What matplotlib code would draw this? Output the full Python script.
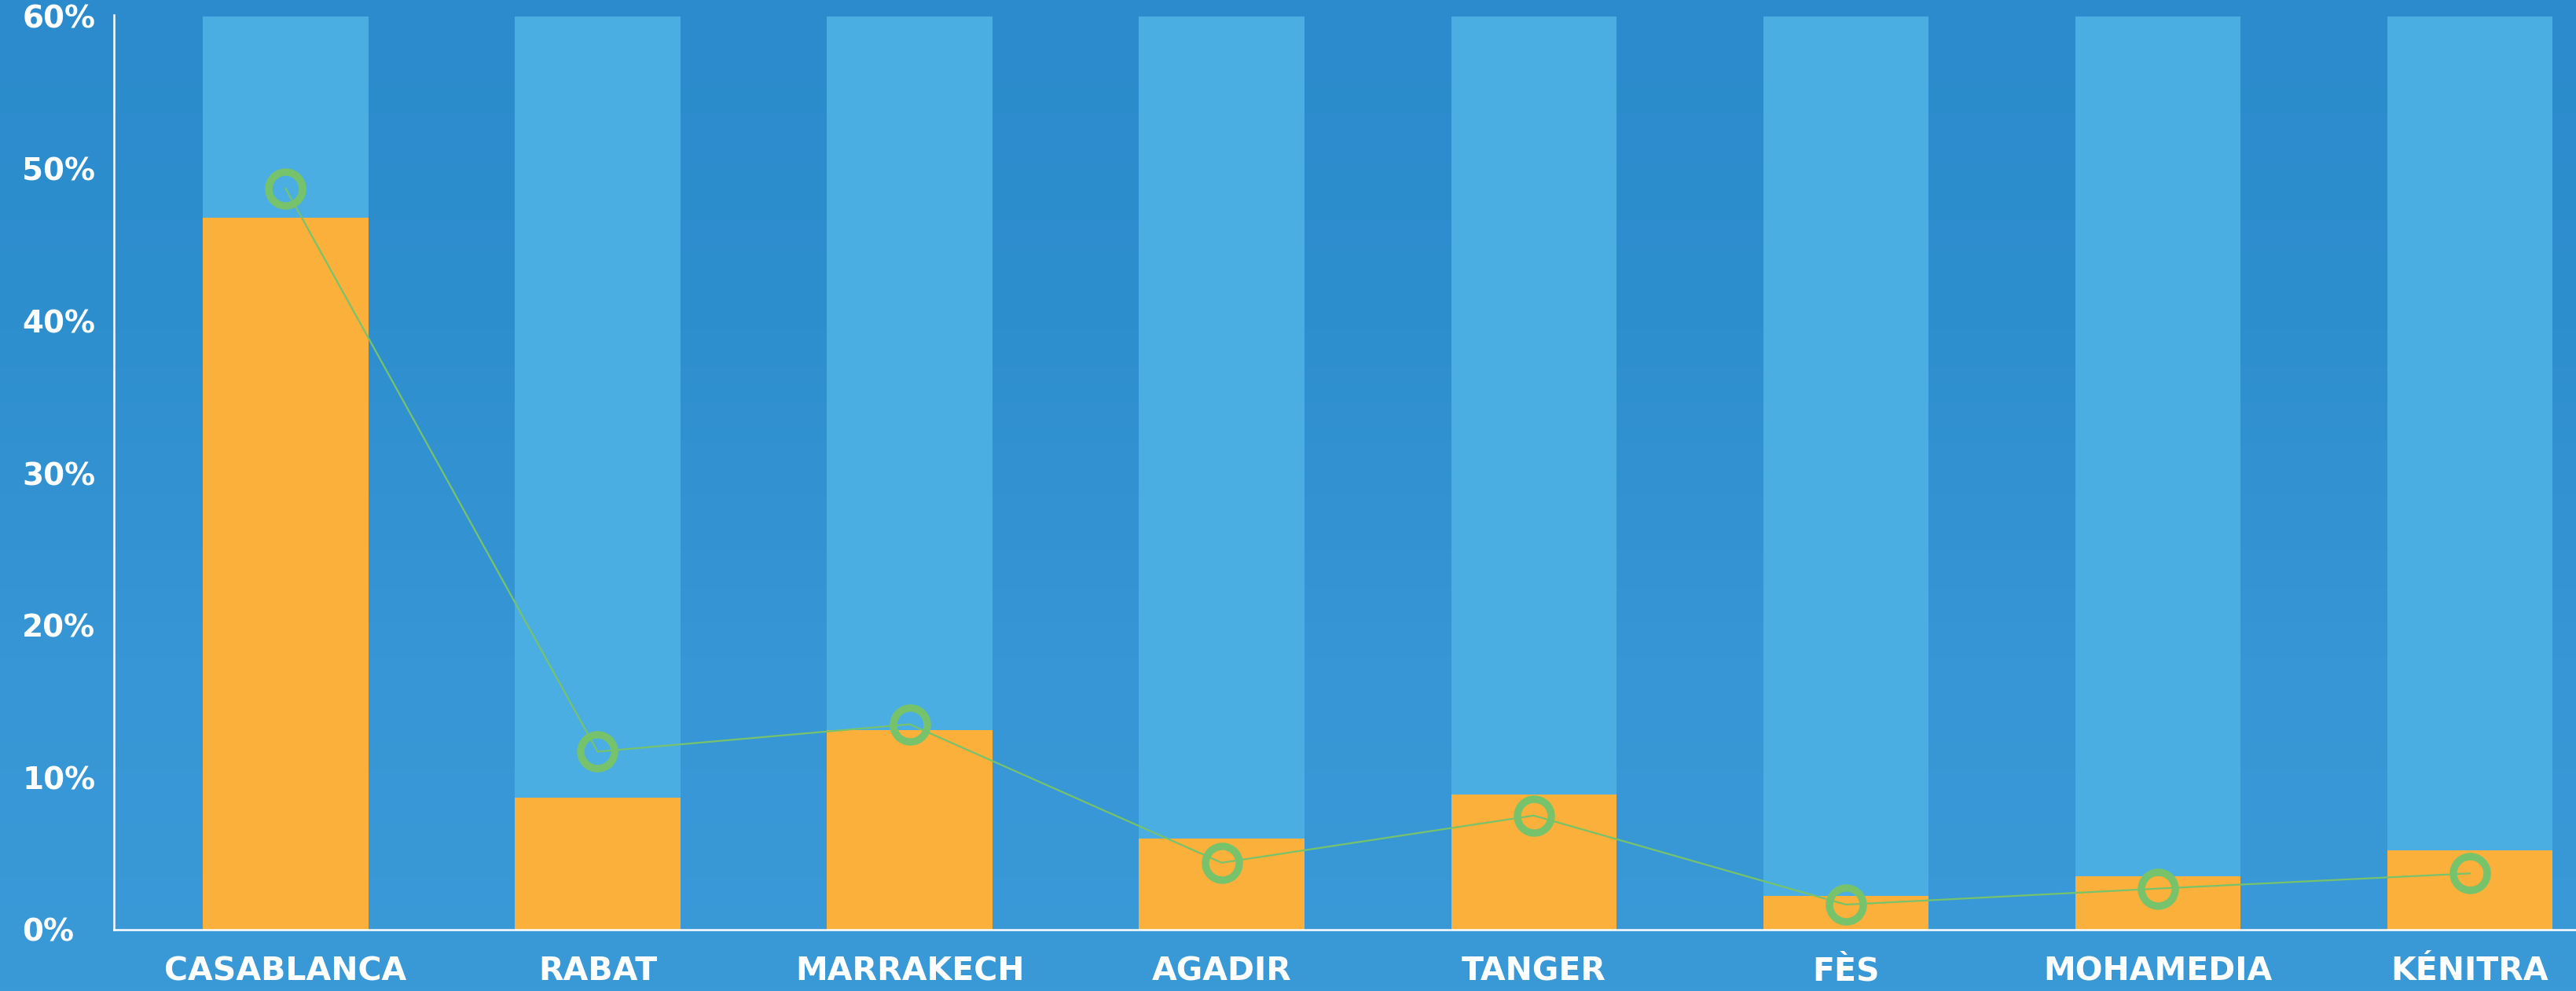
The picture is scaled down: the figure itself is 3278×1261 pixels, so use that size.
import numpy as np
import matplotlib
matplotlib.use("Agg")
import matplotlib.pyplot as plt
from matplotlib.colors import LinearSegmentedColormap

cities = ["CASABLANCA", "RABAT", "MARRAKECH", "AGADIR", "TANGER", "FÈS", "MOHAMEDIA", "KÉNITRA"]
bar_values = [46.8, 8.7, 13.1, 6.0, 8.9, 2.2, 3.5, 5.2]
line_values = [48.7, 11.7, 13.5, 4.4, 7.5, 1.65, 2.7, 3.7]
background_values = [60, 60, 60, 60, 60, 60, 60, 60]
y_ticks = [0, 10, 20, 30, 40, 50, 60]
y_labels = ["0%", "10%", "20%", "30%", "40%", "50%", "60%"]

plt.rcParams.update({
    "font.family": ["DejaVu Sans"],
    "font.weight": "bold",
})

fig = plt.figure(figsize=(32.78, 12.61), dpi=100)

# backdrop gradient
bg = fig.add_axes([0, 0, 1, 1], zorder=0)
cmap = LinearSegmentedColormap.from_list("bg", ["#2B8BCC", "#2E8FCF", "#3796D5", "#3A9AD8"])
grad = np.linspace(0, 1, 256).reshape(-1, 1)
bg.imshow(grad, aspect="auto", cmap=cmap, extent=[0, 1, 0, 1], origin="upper")
bg.set_axis_off()

ax = fig.add_axes([145 / 3278, 1 - 1183 / 1261, 1 - 145 / 3278, (1183 - 21) / 1261], zorder=1)
ax.set_facecolor("none")

x = np.arange(len(cities))
ax.bar(x, background_values, width=0.53, color="#4BAEE3", zorder=1)
ax.bar(x, bar_values, width=0.53, color="#FBB03B", zorder=2)
ax.plot(x, line_values, color="#77C36B", linewidth=1.6, marker="o", markersize=31,
        markerfacecolor="none", markeredgecolor="#77C36B", markeredgewidth=6.8, zorder=3)

ax.set_xlim(-0.55, 7.34)
ax.set_ylim(0, 60)
ax.set_xticks(x)
ax.set_xticklabels(cities, fontsize=29.5, color="white", fontweight="bold")
ax.set_yticks(y_ticks)
ax.set_yticklabels(y_labels, fontsize=28, color="white", fontweight="bold")
for lab in ax.get_yticklabels():
    lab.set_horizontalalignment("left")
ax.tick_params(axis="y", length=0, pad=84)
ax.tick_params(axis="x", length=0, pad=24)

for side in ["top", "right"]:
    ax.spines[side].set_visible(False)
for side in ["left", "bottom"]:
    ax.spines[side].set_color("white")
    ax.spines[side].set_linewidth(1.8)
ax.spines["left"].set_bounds(0, 60.1)

fig.savefig("out.png", dpi=100)
